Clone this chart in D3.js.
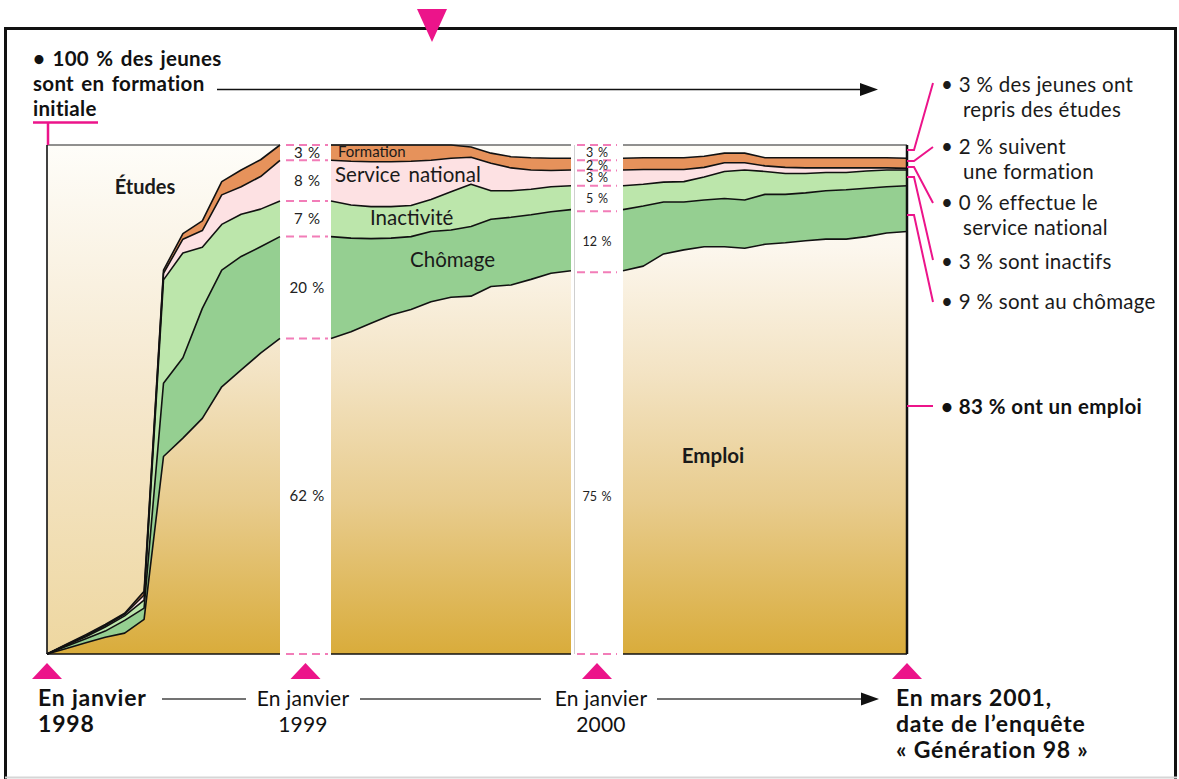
<!DOCTYPE html>
<html>
<head>
<meta charset="utf-8">
<script src="https://cdnjs.cloudflare.com/ajax/libs/d3/7.8.5/d3.min.js"></script>
<style>
body { margin: 0; background: #fff; }
svg { display: block; font-family: Lato, "Open Sans", sans-serif; }
</style>
</head>
<body>
<div id="chart"></div>
<script>
// months since janvier 1998 (0) up to mars 2001 (38)
var months = d3.range(0, 39);

// share of the young people (%) in each situation, month by month
var emploi     = [0, 1.1, 2.2, 3.3, 4.1, 6.8, 38.8, 42.4, 46.3, 52.5, 55.8, 59.1, 62,
                  63.3, 65.0, 66.6, 67.7, 69.2, 70.1, 70.3, 72.2, 72.5, 73.6, 74.8, 75.3,
                  76.2, 78.6, 79.4, 80.0, 80.0, 79.7, 80.5, 80.8, 81.2, 81.5, 81.5, 82.0, 82.7, 83.0];
var chomage    = [0, 0.4, 0.8, 1.2, 2.5, 2.2, 14.4, 15.8, 21.6, 22.9, 22.3, 20.9, 20,
                  18.4, 16.6, 15.1, 14.3, 13.8, 13.2, 13.7, 13.2, 13.3, 12.7, 12.1, 12.0,
                  11.8, 10.2, 9.4, 9.2, 9.5, 9.5, 9.8, 9.5, 9.4, 9.5, 9.7, 9.5, 9.1, 9.0];
var inactivite = [0, 0.2, 0.4, 0.8, 0.9, 1.6, 20.3, 20.6, 12.0, 9.0, 8.3, 7.4, 7,
                  6.5, 6.3, 6.2, 6.1, 6.3, 7.5, 8.3, 5.6, 5.2, 5.0, 4.9, 4.7,
                  4.3, 3.9, 4.0, 4.5, 5.3, 5.9, 4.5, 4.1, 3.8, 3.6, 3.4, 3.4, 3.3, 3.1];
var service    = [0, 0.1, 0.2, 0.3, 0.3, 1.0, 1.3, 2.7, 3.3, 5.8, 5.4, 6.4, 8,
                  8.6, 8.8, 8.8, 8.7, 7.7, 6.6, 5.3, 5.4, 4.5, 3.8, 3.2, 3.1,
                  2.9, 2.5, 2.4, 1.9, 1.7, 1.4, 1.1, 1.2, 1.1, 0.9, 0.9, 0.6, 0.4, 0.3];
var formation  = [0, 0.1, 0.2, 0.2, 0.2, 0.7, 0.6, 1.1, 1.9, 2.6, 3.3, 3.3, 3,
                  3.2, 3.3, 3.3, 3.2, 3.0, 2.6, 2.0, 2.0, 2.2, 2.4, 2.4, 2.3,
                  2.3, 2.3, 2.3, 2.2, 1.9, 1.9, 1.6, 1.9, 2.0, 2.0, 2.0, 2.0, 2.0, 2.0];
// études = what is left up to 100 %

// labels of the two white strips (from the bottom up)
var strip1999 = [62, 20, 7, 8, 3];
var strip2000 = [75, 12, 5, 3, 2, 3];

var notesEnd = [
    ["• 3 % des jeunes ont", "repris des études"],
    ["• 2 % suivent", "une formation"],
    ["• 0 % effectue le", "service national"],
    ["• 3 % sont inactifs"],
    ["• 9 % sont au chômage"]
];
var noteEmploi = "• 83 % ont un emploi";
var noteStart = ["• 100 % des jeunes", "sont en formation", "initiale"];
var timeLabels = [
    {lines: ["En janvier", "1998"], bold: true},
    {lines: ["En janvier", "1999"], bold: false},
    {lines: ["En janvier", "2000"], bold: false},
    {lines: ["En mars 2001,", "date de l\u2019enquête", "« Génération 98 »"], bold: true}
];

var keys = ["emploi", "chomage", "inactivite", "service", "formation", "etudes"];
var fills = {
    emploi: "url(#gEmploi)", chomage: "#95cf91", inactivite: "#bce6ab",
    service: "#fde1e3", formation: "#e6925b", etudes: "url(#gEtudes)"
};

var rows = months.map(function (m, i) {
    var r = {month: m, emploi: emploi[i], chomage: chomage[i], inactivite: inactivite[i],
             service: service[i], formation: formation[i]};
    r.etudes = Math.max(0, 100 - r.emploi - r.chomage - r.inactivite - r.service - r.formation);
    return r;
});
var series = d3.stack().keys(keys)(rows);

var width = 1179, height = 779;
var chartTop = 145, chartBottom = 654;
var magenta = "#ec148a", pink = "#f27db8";

var svg = d3.select("#chart").append("svg")
    .attr("width", width)
    .attr("height", height);

var defs = svg.append("defs");
var g1 = defs.append("linearGradient").attr("id", "gEmploi")
    .attr("gradientUnits", "userSpaceOnUse").attr("x1", 0).attr("x2", 0).attr("y1", chartTop).attr("y2", chartBottom);
[[0, "#fffefa"], [0.2, "#fcf7ee"], [0.45, "#f3e3c3"], [0.7, "#e8cc8e"], [1, "#d9ac3b"]].forEach(function (s) {
    g1.append("stop").attr("offset", s[0]).attr("stop-color", s[1]);
});
var g2 = defs.append("linearGradient").attr("id", "gEtudes")
    .attr("gradientUnits", "userSpaceOnUse").attr("x1", 0).attr("x2", 0).attr("y1", chartTop).attr("y2", chartBottom);
[[0, "#fefdf9"], [0.5, "#f5e7cc"], [1, "#eed7a0"]].forEach(function (s) {
    g2.append("stop").attr("offset", s[0]).attr("stop-color", s[1]);
});

// outer frame
svg.append("path")
    .attr("d", "M5.5,779 V28.5 H1175.5 V779")
    .attr("fill", "none").attr("stroke", "#111").attr("stroke-width", 3);
svg.append("line").attr("x1", 5).attr("x2", 1177).attr("y1", 777.5).attr("y2", 777.5)
    .attr("stroke", "#d6d6d6").attr("stroke-width", 2);

var yScale = d3.scaleLinear().domain([0, 100]).range([chartBottom, chartTop]);

// the chart is cut in three pieces separated by the white strips
var panels = [
    {from: 0, to: 12, x0: 47, x1: 280},
    {from: 12, to: 24, x0: 331, x1: 571},
    {from: 24, to: 38, x0: 623, x1: 907}
];

panels.forEach(function (p, pi) {
    var xScale = d3.scaleLinear().domain([p.from, p.to]).range([p.x0, p.x1]);
    var g = svg.append("g");

    var area = d3.area()
        .x(function (d) { return xScale(d.data.month); })
        .y0(function (d) { return yScale(d[0]); })
        .y1(function (d) { return yScale(d[1]); });
    var line = d3.line()
        .x(function (d) { return xScale(d.data.month); })
        .y(function (d) { return yScale(d[1]); });

    series.forEach(function (s) {
        var part = s.filter(function (d) { return d.data.month >= p.from && d.data.month <= p.to; });
        g.append("path").datum(part)
            .attr("d", area)
            .attr("fill", fills[s.key]);
    });
    series.forEach(function (s) {
        if (s.key == "etudes") return;
        var part = s.filter(function (d) { return d.data.month >= p.from && d.data.month <= p.to; });
        g.append("path").datum(part)
            .attr("d", line)
            .attr("fill", "none")
            .attr("stroke", "#111")
            .attr("stroke-width", 1.6)
            .attr("stroke-linejoin", "round");
    });

    // frame of the piece
    g.append("line").attr("x1", p.x0).attr("x2", p.x1).attr("y1", chartTop).attr("y2", chartTop)
        .attr("stroke", "#222").attr("stroke-width", 1.2);
    g.append("line").attr("x1", p.x0).attr("x2", p.x1).attr("y1", chartBottom).attr("y2", chartBottom)
        .attr("stroke", "#111").attr("stroke-width", 1.6);
    if (pi == 0) {
        g.append("line").attr("x1", p.x0).attr("x2", p.x0).attr("y1", chartTop).attr("y2", chartBottom)
            .attr("stroke", "#111").attr("stroke-width", 1.6);
    }
    if (pi == 2) {
        g.append("line").attr("x1", p.x1).attr("x2", p.x1).attr("y1", chartTop).attr("y2", chartBottom)
            .attr("stroke", "#111").attr("stroke-width", 2.5);
    }
});

// thin border on the left of the 2000 strip
svg.append("line").attr("x1", 574.5).attr("x2", 574.5).attr("y1", chartTop).attr("y2", chartBottom)
    .attr("stroke", "#cfcfcf").attr("stroke-width", 1);

// white strips with the shares at janvier 1999 and janvier 2000
var strips = [
    {x0: 286, x1: 328, labels: strip1999, size: 15},
    {x0: 577, x1: 617, labels: strip2000, size: 12.5}
];
strips.forEach(function (s) {
    var cum = [0];
    s.labels.forEach(function (v) { cum.push(cum[cum.length - 1] + v); });
    var g = svg.append("g");
    g.selectAll("line").data(cum).enter().append("line")
        .attr("x1", s.x0).attr("x2", s.x1)
        .attr("y1", function (d) { return yScale(d); })
        .attr("y2", function (d) { return yScale(d); })
        .attr("stroke", pink).attr("stroke-width", 2)
        .attr("stroke-dasharray", "8,5");
    g.selectAll("text").data(s.labels).enter().append("text")
        .attr("x", (s.x0 + s.x1) / 2)
        .attr("y", function (d, i) { return i == 0 ? yScale(31) : yScale((cum[i] + cum[i + 1]) / 2); })
        .attr("dy", "0.35em")
        .attr("text-anchor", "middle")
        .attr("font-size", s.size)
        .attr("word-spacing", 1.5)
        .attr("fill", "#222")
        .text(function (d) { return d + " %"; });
});

// names inside the chart
var inside = [
    {t: "Études", x: 145, y: 187, size: 20, w: "bold", a: "middle"},
    {t: "Formation", x: 338, y: 152, size: 15, w: "normal", a: "start"},
    {t: "Service national", x: 335, y: 175, size: 20.5, w: "normal", a: "start"},
    {t: "Inactivité", x: 370, y: 218, size: 20.5, w: "normal", a: "start"},
    {t: "Chômage", x: 410, y: 260, size: 20.5, w: "normal", a: "start"},
    {t: "Emploi", x: 713, y: 456, size: 20.5, w: "bold", a: "middle"}
];
svg.selectAll("text.inside").data(inside).enter().append("text")
    .attr("class", "inside")
    .attr("x", function (d) { return d.x; })
    .attr("y", function (d) { return d.y; })
    .attr("dy", "0.35em")
    .attr("text-anchor", function (d) { return d.a; })
    .attr("font-size", function (d) { return d.size; })
    .attr("font-weight", function (d) { return d.w; })
    .attr("word-spacing", 3)
    .attr("fill", "#1a1a1a")
    .text(function (d) { return d.t; });

// top left note
svg.selectAll("text.start").data(noteStart).enter().append("text")
    .attr("class", "start")
    .attr("x", 33)
    .attr("y", function (d, i) { return 66 + i * 25; })
    .attr("font-size", 20.5).attr("font-weight", "bold").attr("fill", "#111")
    .attr("letter-spacing", 0.3).attr("word-spacing", 2)
    .text(function (d) { return d; });
svg.append("path").attr("d", "M33,122.5 H98 M48,122.5 V145")
    .attr("fill", "none").attr("stroke", magenta).attr("stroke-width", 2.5);
svg.append("line").attr("x1", 217).attr("x2", 862).attr("y1", 89.5).attr("y2", 89.5)
    .attr("stroke", "#111").attr("stroke-width", 1.5);
svg.append("path").attr("d", "M860,83 L878,89.5 L860,96 Z").attr("fill", "#111");

// marker at the top
svg.append("path").attr("d", "M417,9 L447,9 L432,42 Z").attr("fill", magenta);

// notes on the right
var leaderY = [[150, 83], [161, 147], [167, 203], [177, 260], [215, 302]];
var noteY = [85, 147, 203, 262, 302];
notesEnd.forEach(function (lines, k) {
    svg.append("path")
        .attr("d", "M907," + leaderY[k][0] + " H914 L933," + leaderY[k][1])
        .attr("fill", "none").attr("stroke", magenta).attr("stroke-width", 2);
    lines.forEach(function (t, j) {
        svg.append("text")
            .attr("x", j == 0 ? 941 : 963)
            .attr("y", noteY[k] + j * 25)
            .attr("dy", "0.35em")
            .attr("font-size", 20.5).attr("fill", "#1a1a1a")
            .attr("letter-spacing", 0.3)
            .text(t);
    });
});
svg.append("line").attr("x1", 907).attr("x2", 933).attr("y1", 406).attr("y2", 406)
    .attr("stroke", magenta).attr("stroke-width", 2);
svg.append("text").attr("x", 941).attr("y", 407).attr("dy", "0.35em")
    .attr("font-size", 20.5).attr("font-weight", "bold").attr("fill", "#111")
    .attr("letter-spacing", 0.4)
    .text(noteEmploi);

// time line at the bottom
var marks = [47, (280 + 331) / 2, (571 + 623) / 2, 907];
svg.selectAll("path.mark").data(marks).enter().append("path")
    .attr("class", "mark")
    .attr("d", function (d) { return "M" + (d - 15) + ",679 L" + (d + 15) + ",679 L" + d + ",663 Z"; })
    .attr("fill", magenta);

var labelX = [38, 303, 601, 896];
timeLabels.forEach(function (lab, k) {
    lab.lines.forEach(function (t, j) {
        svg.append("text")
            .attr("x", labelX[k])
            .attr("y", 706 + j * 26)
            .attr("text-anchor", (k == 1 || k == 2) ? "middle" : "start")
            .attr("font-size", lab.bold ? 23 : 21)
            .attr("font-weight", lab.bold ? "bold" : "normal")
            .attr("letter-spacing", lab.bold ? 0.8 : 0.2)
            .attr("fill", "#111")
            .text(t);
    });
});
[[162, 246], [360, 541], [657, 863]].forEach(function (seg) {
    svg.append("line").attr("x1", seg[0]).attr("x2", seg[1]).attr("y1", 699).attr("y2", 699)
        .attr("stroke", "#444").attr("stroke-width", 1.5);
});
svg.append("path").attr("d", "M861,692.5 L879,699 L861,705.5 Z").attr("fill", "#111");
</script>
</body>
</html>
